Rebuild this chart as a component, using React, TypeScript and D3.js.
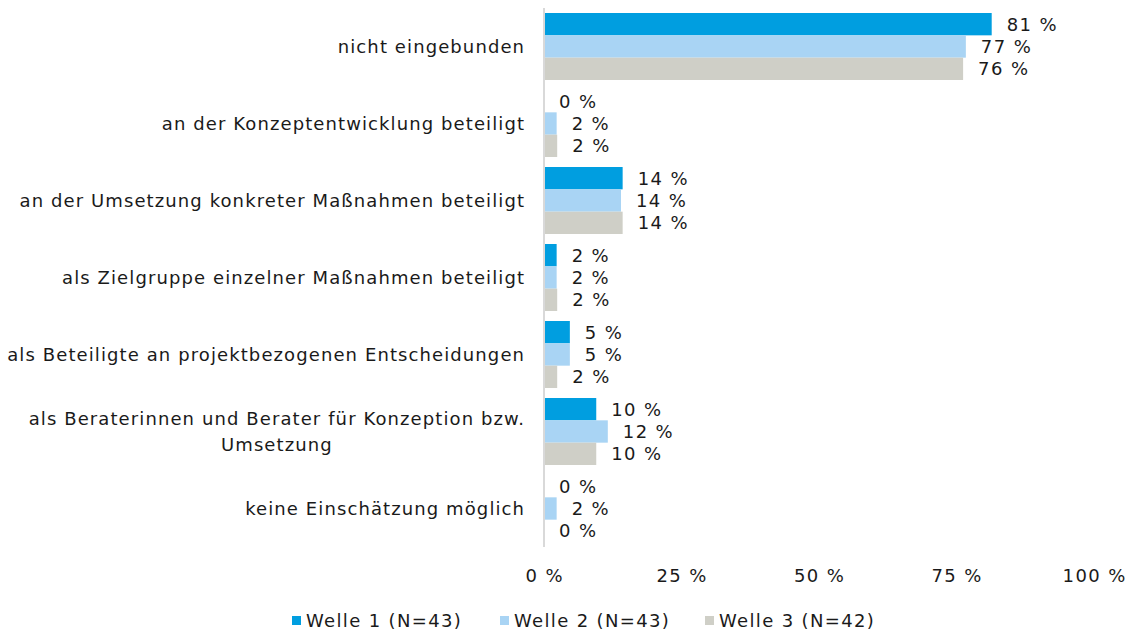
import React, { useEffect, useRef } from "react";
import * as d3 from "d3";

const categories = [
  "nicht eingebunden",
  "an der Konzeptentwicklung beteiligt",
  "an der Umsetzung konkreter Maßnahmen beteiligt",
  "als Zielgruppe einzelner Maßnahmen beteiligt",
  "als Beteiligte an projektbezogenen Entscheidungen",
  "als Beraterinnen und Berater für Konzeption bzw.|Umsetzung",
  "keine Einschätzung möglich",
];
const seriesNames = ["Welle 1 (N=43)", "Welle 2 (N=43)", "Welle 3 (N=42)"];
const welle1 = [81.4, 0, 14.3, 2.3, 4.7, 9.5, 0];
const welle2 = [76.7, 2.3, 14.0, 2.3, 4.7, 11.6, 2.3];
const welle3 = [76.2, 2.4, 14.3, 2.4, 2.4, 9.5, 0];
const tickValues = [0, 25, 50, 75, 100];
const colors = ["#009EE0", "#A9D4F4", "#CFCFC7"];

const W = 1137;
const H = 635;
const FONT = "'DejaVu Sans', Verdana, sans-serif";
const LS = 1.1;

export default function App() {
  const ref = useRef<SVGSVGElement>(null);
  useEffect(() => {
    const svg = d3.select(ref.current);
    svg.selectAll("*").remove();
    const series = [welle1, welle2, welle3];
    const x = d3.scaleLinear().domain([0, 100]).range([544, 1094]);
    const y0 = d3
      .scaleBand<string>()
      .domain(categories)
      .range([8, 547])
      .paddingInner(0.13)
      .paddingOuter(0.065);
    const y1 = d3
      .scaleBand<number>()
      .domain([0, 1, 2])
      .range([0, y0.bandwidth()]);

    const g = svg
      .append("g")
      .attr("font-family", FONT)
      .attr("font-size", 18)
      .attr("letter-spacing", LS)
      .attr("fill", "#1a1a1a");

    // bars
    categories.forEach((c, ci) => {
      series.forEach((s, si) => {
        const v = s[ci];
        const yy = (y0(c) as number) + (y1(si) as number);
        if (v > 0) {
          g.append("rect")
            .attr("x", x(0))
            .attr("y", yy)
            .attr("width", x(v) - x(0))
            .attr("height", y1.bandwidth())
            .attr("fill", colors[si]);
        }
        g.append("text")
          .attr("x", x(v) + 15)
          .attr("y", yy + y1.bandwidth() / 2)
          .attr("dy", "0.36em")
          .attr("letter-spacing", 1.4)
          .text(`${Math.round(v)} %`);
      });
    });

    // axis line
    g.append("line")
      .attr("x1", x(0))
      .attr("x2", x(0))
      .attr("y1", 8)
      .attr("y2", 547)
      .attr("stroke", "#D9D9D9")
      .attr("stroke-width", 2);

    // category labels
    categories.forEach((c) => {
      const lines = c.split("|");
      const cy = (y0(c) as number) + y0.bandwidth() / 2;
      const lh = 26;
      const t = g
        .append("text")
        .attr("x", 524 + LS)
        .attr("y", cy - ((lines.length - 1) * lh) / 2)
        .attr("dy", "0.36em")
        .attr("text-anchor", "end")
        .text(lines[0]);
      if (lines.length > 1) {
        const w = (t.node() as SVGTextElement).getComputedTextLength();
        g.append("text")
          .attr("x", 524 - w / 2 + LS)
          .attr("y", cy + lh / 2)
          .attr("dy", "0.36em")
          .attr("text-anchor", "middle")
          .text(lines[1]);
      }
    });

    // ticks
    tickValues.forEach((t) => {
      g.append("text")
        .attr("x", x(t) + 0.7)
        .attr("y", 576)
        .attr("dy", "0.36em")
        .attr("text-anchor", "middle")
        .attr("letter-spacing", 1.4)
        .text(`${t} %`);
    });

    // legend
    const legendX = [292, 500, 705];
    seriesNames.forEach((n, i) => {
      g.append("rect")
        .attr("x", legendX[i])
        .attr("y", 616)
        .attr("width", 9)
        .attr("height", 9)
        .attr("fill", colors[i]);
      g.append("text")
        .attr("x", legendX[i] + 14)
        .attr("y", 621)
        .attr("dy", "0.36em")
        .attr("letter-spacing", 1.35)
        .text(n);
    });
  }, []);
  return (
    <svg
      ref={ref}
      width={W}
      height={H}
      style={{ position: "absolute", left: 0, top: 0, background: "#fff" }}
    />
  );
}
